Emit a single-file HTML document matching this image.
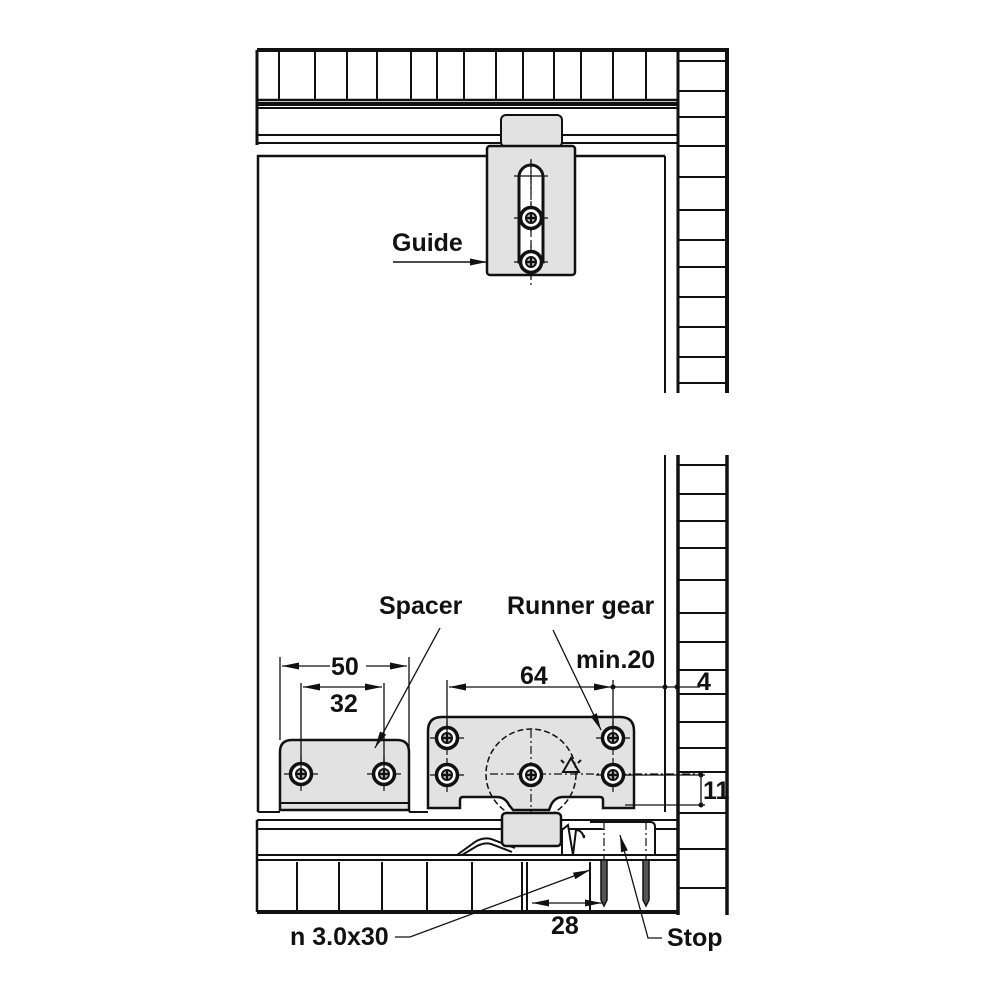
<!DOCTYPE html>
<html><head><meta charset="utf-8"><style>
html,body{margin:0;padding:0;background:#fff;width:1000px;height:1000px;overflow:hidden}
svg{display:block}
text{font-family:"Liberation Sans",sans-serif;font-weight:bold;font-size:25px;fill:#111}
</style></head><body>
<svg width="1000" height="1000" viewBox="0 0 1000 1000" xmlns="http://www.w3.org/2000/svg">
<defs>
<marker id="ar" viewBox="0 0 17 7" refX="17" refY="3.5" markerWidth="17" markerHeight="7" orient="auto-start-reverse" markerUnits="userSpaceOnUse"><path d="M0,0 L17,3.5 L0,7 z" fill="#111"/></marker>
<g id="scr"><circle r="10.5" fill="#fff" stroke="#111" stroke-width="3.5"/><circle r="5" fill="#bbb" stroke="#111" stroke-width="2"/><path d="M-5,0H5M0,-5V5" stroke="#111" stroke-width="2.2"/></g>
<g id="cross"><path d="M-17,0H17M0,-17V17" stroke="#111" stroke-width="1.2"/></g>
</defs>
<g stroke="#111" fill="none">
<path d="M257,50 H727 V393" stroke-width="4"/>
<path d="M257,50 V145" stroke-width="3"/>
<path d="M257,100 H677" stroke-width="2.5"/>
<path d="M257,104 H677" stroke-width="4"/>
<g stroke-width="2">
<path d="M279,50V100M315,50V100M347,50V100M377,50V100M411,50V100M437,50V100M464,50V100M496,50V100M523,50V100M554,50V100M581,50V100M613,50V100M646,50V100"/>
</g>
<path d="M678,50 V393" stroke-width="3"/>
<path d="M257,108 H677 M257,135 H677 M257,143 H677" stroke-width="2"/>
<path d="M678,455 V915 M727,455 V915" stroke-width="3.5"/>
<path d="M665,455 V812 M665,156 V393" stroke-width="2"/>
<g stroke-width="2">
<path d="M678,61H727M678,91H727M678,117H727M678,146H727M678,177H727M678,210H727M678,240H727M678,267H727M678,297H727M678,327H727M678,357H727M678,383H727"/>
<path d="M678,465H727M678,494H727M678,521H727M678,548H727M678,580H727M678,613H727M678,642H727M678,670H727M678,694H727M678,722H727M678,748H727M678,772H727M678,813H727M678,849H727M678,888H727"/>
</g>
<path d="M258,812 V156 H665" stroke-width="2.5"/>
<path d="M258,812 H280 M409,812 H428" stroke-width="2"/>
<path d="M257,820 H677 M257,829 H677 M257,855 H677 M257,860 H677" stroke-width="2"/>
<path d="M257,820 V912" stroke-width="2.5"/>
<path d="M257,912 H677" stroke-width="4"/>
<g stroke-width="2"><path d="M297,862V912M339,862V912M382,862V912M427,862V912M472,862V912M522,862V912M527,862V912M590,862V912"/></g>
</g>
<rect x="501" y="115" width="61" height="32" rx="5" fill="#e2e2e2" stroke="#111" stroke-width="2"/>
<rect x="487" y="146" width="88" height="129" rx="3" fill="#e2e2e2" stroke="#111" stroke-width="2.5"/>
<path d="M519,177 a12,12 0 0 1 24,0 V262 h-24 z" fill="#fff" stroke="#111" stroke-width="3"/>
<path d="M531,160 V285" stroke="#111" stroke-width="1.2" stroke-dasharray="8,3,2,3"/>
<use href="#cross" x="531" y="176"/><use href="#cross" x="531" y="218"/><use href="#cross" x="531" y="262"/>
<use href="#scr" x="531" y="218"/><use href="#scr" x="531" y="262"/>
<text x="392" y="251">Guide</text>
<path d="M393,262 H487" stroke="#111" stroke-width="1.5" marker-end="url(#ar)"/>
<path d="M280,810 V752 q0,-12 12,-12 H397 q12,0 12,12 V810 Z" fill="#e2e2e2" stroke="#111" stroke-width="2.5"/>
<path d="M280,803 H409" stroke="#111" stroke-width="2"/>
<use href="#cross" x="301" y="774"/><use href="#cross" x="384" y="774"/>
<use href="#scr" x="301" y="774"/><use href="#scr" x="384" y="774"/>
<path d="M428,808 V731 q0,-14 14,-14 H620 q14,0 14,14 V808 H603 V800 q0,-3 -3,-3 H563 q-8,0 -12,8 L549,810 H513 L509,805 q-4,-8 -12,-8 H463 q-3,0 -3,3 V808 Z" fill="#e2e2e2" stroke="#111" stroke-width="2.5"/>
<circle cx="531" cy="774" r="45" fill="none" stroke="#111" stroke-width="1.5" stroke-dasharray="6,3"/>
<path d="M490,774 H700 M531,730 V845" stroke="#111" stroke-width="1.2" stroke-dasharray="8,3,2,3"/>
<use href="#cross" x="447" y="738"/><use href="#cross" x="447" y="775"/><use href="#cross" x="613" y="738"/><use href="#cross" x="613" y="775"/>
<use href="#scr" x="447" y="738"/><use href="#scr" x="447" y="775"/><use href="#scr" x="613" y="738"/><use href="#scr" x="613" y="775"/><use href="#scr" x="531" y="775"/>
<path d="M563,772 l8,-14 l8,14 z M561,760 l3,3 M581,760 l-3,3" fill="none" stroke="#111" stroke-width="2"/>
<path d="M457,855 L475,842 q8,-5 16,-3 L515,848 M462,855 L477,846 q8,-4 14,-2 L512,852" fill="none" stroke="#111" stroke-width="2"/>
<rect x="502" y="813" width="59" height="33" rx="4" fill="#e2e2e2" stroke="#111" stroke-width="2.5"/>
<path d="M562,855 V830 l6,-5 l5,30 l3,-25 q6,0 8,8 V835" fill="#fff" stroke="#111" stroke-width="2"/>
<path d="M590,822 H650 q5,0 5,5 V855" fill="#fff" stroke="#111" stroke-width="2"/>
<path d="M604,822 V905 M646,822 V905" stroke="#111" stroke-width="1.2" stroke-dasharray="8,3,2,3"/>
<path d="M601,860 h6 v40 l-3,6 l-3,-6 z M643,860 h6 v40 l-3,6 l-3,-6 z" fill="#555" stroke="#111" stroke-width="1.5"/>
<g stroke="#111" stroke-width="1.3" fill="none">
<path d="M280,657 V740 M409,657 V812 M301,683 V774 M384,683 V774"/>
<path d="M282,666 H330 M366,666 H407" marker-start="url(#ar)" marker-end="url(#ar)"/>
<path d="M303,687 H382" marker-start="url(#ar)" marker-end="url(#ar)"/>
<path d="M447,680 V738 M613,680 V738"/>
<path d="M449,687 H611" marker-start="url(#ar)" marker-end="url(#ar)"/>
<path d="M613,687 H700"/>
<path d="M440,628 L375,748" marker-end="url(#ar)"/>
<path d="M553,630 L601,730" marker-end="url(#ar)"/>
<path d="M625,775 H705 M625,805 H705 M701,777 V803" />
<path d="M395,937 H410 L590,870" marker-end="url(#ar)"/>
<path d="M532,903 H602" marker-start="url(#ar)" marker-end="url(#ar)"/>
<path d="M662,938 H648 L620,835" marker-end="url(#ar)"/>
</g>
<g fill="#111"><circle cx="613" cy="687" r="2.5"/><circle cx="665" cy="687" r="2.5"/><circle cx="677" cy="687" r="2.5"/><circle cx="701" cy="775" r="2.5"/><circle cx="701" cy="805" r="2.5"/></g>
<text x="379" y="614">Spacer</text>
<text x="507" y="614">Runner gear</text>
<text x="576" y="668">min.20</text>
<text x="331" y="675">50</text>
<text x="330" y="712">32</text>
<text x="520" y="684">64</text>
<text x="697" y="690">4</text>
<text x="703" y="799">11</text>
<text x="551" y="934">28</text>
<text x="290" y="945">n 3.0x30</text>
<text x="667" y="946">Stop</text>
</svg>
</body></html>
